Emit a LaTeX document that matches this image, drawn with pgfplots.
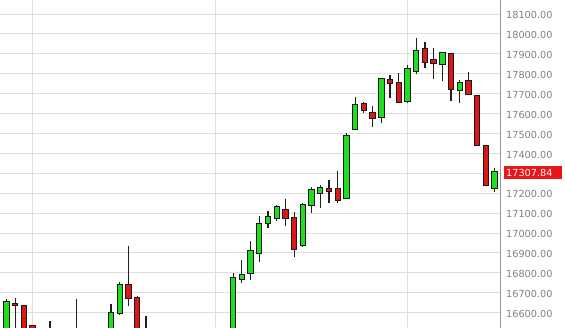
\documentclass[border=0pt]{standalone}
\usepackage{fontspec}
\setmainfont{DejaVu Sans}
\usepackage{pgfplots}
\pgfplotsset{compat=1.18}
\usepackage{pgfplotstable}
\definecolor{upgreen}{RGB}{30,222,30}
\definecolor{downred}{RGB}{222,22,22}
\definecolor{gridc}{RGB}{222,222,222}
\definecolor{axisc}{RGB}{150,150,150}
\definecolor{labc}{RGB}{128,128,128}
\definecolor{boxred}{RGB}{232,22,22}

% index open high low close (green candles)
\pgfplotstableread{
x o h l c
0 16480 16668 16450 16656
12 16480 16645 16450 16601
13 16594 16752 16590 16740
26 16480 16797 16460 16777
27 16769 16865 16749 16794
28 16797 16962 16762 16914
29 16896 17086 16855 17050
30 17048 17112 17025 17083
31 17075 17142 17063 17133
34 16937 17150 16932 17145
35 17137 17230 17103 17217
36 17200 17242 17125 17230
39 17175 17505 17175 17488
40 17522 17682 17518 17647
43 17580 17778 17552 17778
46 17662 17844 17652 17828
47 17811 17978 17798 17915
50 17848 17908 17764 17908
52 17717 17769 17655 17758
56 17225 17326 17205 17307.84
}\up

% red candles
\pgfplotstableread{
x o h l c
1 16648 16673 16500 16638
2 16635 16640 16450 16480
3 16535 16538 16490 16515
5 16500 16556 16440 16470
8 16500 16668 16440 16480
14 16740 16936 16635 16673
15 16678 16682 16450 16480
16 16500 16584 16450 16480
32 17117 17172 17033 17075
33 17078 17108 16882 16916
37 17225 17267 17150 17208
38 17225 17312 17153 17163
41 17649 17660 17602 17614
42 17607 17639 17535 17575
44 17769 17794 17680 17749
45 17758 17803 17657 17657
48 17925 17958 17828 17858
49 17873 17928 17774 17853
51 17900 17900 17665 17722
53 17768 17808 17695 17695
54 17690 17690 17438 17438
55 17438 17438 17239 17239
}\down

\begin{document}
\begin{tikzpicture}
\useasboundingbox (0,0) rectangle (565bp,328bp);
\begin{axis}[
  at={(0,0)}, anchor=south west,
  scale only axis, width=500.7bp, height=328bp,
  xmin=-0.734, xmax=56.69, ymin=16523.1, ymax=18170.8,
  axis x line*=bottom, axis y line*=right,
  x axis line style={draw=none},
  y axis line style={draw=axisc, line width=1bp},
  xtick={3,24,46}, xticklabels={}, xmajorgrids,
  ytick={16600,16700,...,18100}, ymajorgrids,
  yticklabels={16600.00,16700.00,16800.00,16900.00,17000.00,17100.00,17200.00,{},17400.00,17500.00,17600.00,17700.00,17800.00,17900.00,18000.00,18100.00},
  major tick length=0pt,
  grid style={draw=gridc, line width=1bp},
  scaled y ticks=false,
  yticklabel style={font=\fontsize{9.7bp}{11bp}\selectfont, text=labc, anchor=west,
    inner sep=0pt, xshift=5.3bp, yshift=-1.2bp,
    /pgf/number format/fixed, /pgf/number format/fixed zerofill,
    /pgf/number format/precision=2, /pgf/number format/1000 sep={},
    /pgf/number format/assume math mode=true},
  extra y ticks={17307.84},
  extra y tick labels={17307.84},
  extra y tick style={grid=none, yticklabel style={fill=boxred, text=white,
    xshift=-2.7bp, yshift=0.5bp, inner xsep=2.7bp, inner ysep=3.25bp,
    text height=7.1bp, text depth=0pt, text width=53bp, align=left}},
]
% wicks
\addplot[-, draw=black!88, line width=1.2bp, quiver={u=0, v=\thisrow{h}-\thisrow{l}}] table[x=x, y=l] {\up};
\addplot[-, draw=black!88, line width=1.2bp, quiver={u=0, v=\thisrow{h}-\thisrow{l}}] table[x=x, y=l] {\down};
% body borders
\addplot[-, draw=black!90, line width=6.4bp, quiver={u=0, v=\thisrow{c}-\thisrow{o},
  every arrow/.append style={shorten <=-0.5bp, shorten >=-0.5bp}}] table[x=x, y=o] {\up};
\addplot[-, draw=black!90, line width=6.4bp, quiver={u=0, v=\thisrow{o}-\thisrow{c},
  every arrow/.append style={shorten <=-0.5bp, shorten >=-0.5bp}}] table[x=x, y=c] {\down};
% body fills
\addplot[-, draw=upgreen, line width=4.4bp, quiver={u=0, v=\thisrow{c}-\thisrow{o},
  every arrow/.append style={shorten <=0.5bp, shorten >=0.5bp}}] table[x=x, y=o] {\up};
\addplot[-, draw=downred, line width=4.4bp, quiver={u=0, v=\thisrow{o}-\thisrow{c},
  every arrow/.append style={shorten <=0.5bp, shorten >=0.5bp}}] table[x=x, y=c] {\down};
\end{axis}
\end{tikzpicture}
\end{document}
